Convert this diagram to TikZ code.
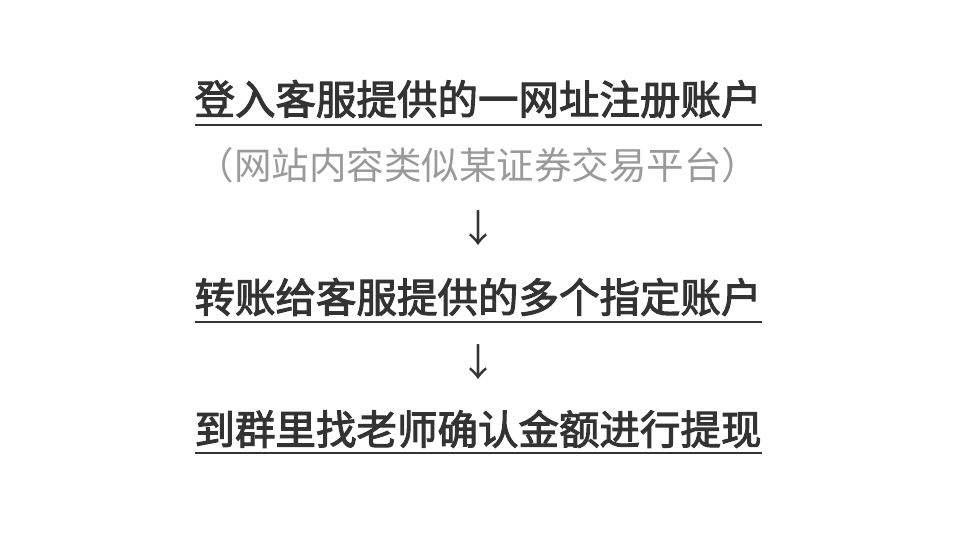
\documentclass[tikz,border=0pt]{standalone}
\usepackage{fontspec}
\newfontfamily\cjk{Noto Sans CJK SC}
\newfontfamily\cjkb[FakeBold=2.5]{Noto Sans CJK SC}
\definecolor{dark}{HTML}{333333}
\definecolor{light}{HTML}{9A9A9A}
\begin{document}
\begin{tikzpicture}[x=1pt,y=-1pt,
  main/.style={text=dark,font=\cjkb\fontsize{40.5}{44}\selectfont,inner sep=0pt},
  sub/.style={text=light,font=\cjk\fontsize{37.5}{42}\selectfont,inner sep=0pt},
  arr/.style={text=dark,font=\cjk\fontsize{38}{42}\selectfont,inner sep=0pt},
  uline/.style={draw=dark,line width=2.5pt}]
\useasboundingbox[fill=white] (0,0) rectangle (962,541);
\node[main] (t1) at (478,99) {登入客服提供的一网址注册账户};
\draw[uline] (195,125) -- (762,125);
\node[sub] (s1) at (478,165) {（网站内容类似某证券交易平台）};
\node[arr] (a1) at (478,228) {↓};
\node[main] (t2) at (478,297) {转账给客服提供的多个指定账户};
\draw[uline] (195,322) -- (762,322);
\node[arr] (a2) at (478,362) {↓};
\node[main] (t3) at (478,429) {到群里找老师确认金额进行提现};
\draw[uline] (195,453) -- (762,453);
\end{tikzpicture}
\end{document}
